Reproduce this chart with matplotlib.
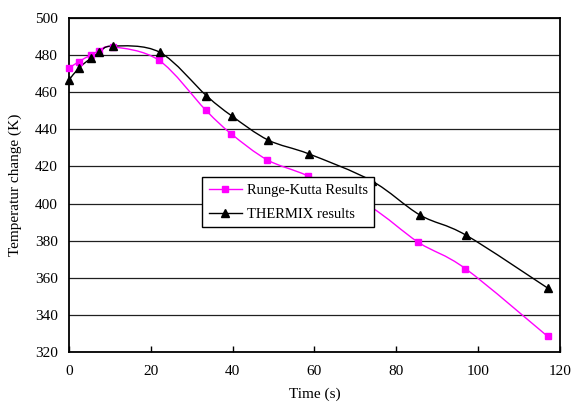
import numpy as np
import matplotlib
matplotlib.use("Agg")
import matplotlib.pyplot as plt
from matplotlib.path import Path
from matplotlib.patches import PathPatch
from matplotlib.lines import Line2D

plt.rcParams['font.family'] = ['Liberation Serif', 'DejaVu Serif']

# Runge-Kutta results (magenta squares)
t_rk = [0.0, 2.4, 5.3, 7.3, 10.7, 22.0, 33.4, 39.7, 48.5, 58.5, 73.5, 85.4, 96.9, 117.0]
T_rk = [472.9, 476.5, 480.0, 482.2, 484.5, 477.2, 450.4, 437.5, 423.5, 414.8, 398.5, 379.1, 364.9, 328.4]

# THERMIX results (black triangles)
t_th = [0.0, 2.5, 5.3, 7.4, 10.7, 22.2, 33.6, 39.8, 48.7, 58.7, 74.0, 85.8, 97.0, 117.1]
T_th = [466.6, 473.2, 478.2, 481.5, 484.9, 481.5, 458.1, 447.2, 434.2, 426.7, 412.2, 393.8, 383.0, 354.3]

x_ticks = [0, 20, 40, 60, 80, 100, 120]
y_ticks = [320, 340, 360, 380, 400, 420, 440, 460, 480, 500]


def smooth_path(xs, ys):
    # Excel-like smoothed line: Catmull-Rom segments as cubic Beziers
    p = np.column_stack([xs, ys])
    n = len(p)
    verts = [p[0]]
    codes = [Path.MOVETO]
    for i in range(n - 1):
        prev = p[i - 1] if i > 0 else p[i]
        nxt = p[i + 2] if i + 2 < n else p[i + 1]
        c1 = p[i] + (p[i + 1] - prev) / 6
        c2 = p[i + 1] - (nxt - p[i]) / 6
        verts += [c1, c2, p[i + 1]]
        codes += [Path.CURVE4] * 3
    return Path(verts, codes)


fig = plt.figure(figsize=(5.72, 4.07), dpi=100)
ax = fig.add_axes([0.1206, 0.1351, 0.8584, 0.8207])

ax.add_patch(PathPatch(smooth_path(t_rk, T_rk), fill=False, edgecolor='#FF00FF', lw=1.0, zorder=3))
ax.add_patch(PathPatch(smooth_path(t_th, T_th), fill=False, edgecolor='black', lw=1.0, zorder=3))
ax.plot(t_rk, T_rk, ls='none', marker='s', ms=4.5, color='#FF00FF', clip_on=False, zorder=4)
ax.plot(t_th, T_th, ls='none', marker='^', ms=5.5, color='black', clip_on=False, zorder=4)

ax.set_xlim(0, 120)
ax.set_ylim(320, 500)
ax.set_xticks(x_ticks)
ax.set_yticks(y_ticks)
ax.yaxis.grid(True, color='#202020', lw=0.9)
ax.set_axisbelow(True)
ax.tick_params(axis='x', direction='in', length=4, width=1, labelsize=11, pad=9)
ax.tick_params(axis='y', direction='in', length=0, labelsize=11, pad=8)
for s in ax.spines.values():
    s.set_linewidth(1.3)

ax.set_xlabel("Time (s)", fontsize=11, labelpad=7)
ax.set_ylabel("Temperatur change (K)", fontsize=11, labelpad=9)

# Legend
handles = [
    Line2D([], [], color='#FF00FF', marker='s', ms=4.5, lw=1.0, label='Runge-Kutta Results'),
    Line2D([], [], color='black', marker='^', ms=5.5, lw=1.0, label='THERMIX results'),
]
leg = ax.legend(handles=handles, loc='upper left', bbox_to_anchor=(0.271, 0.524),
                borderaxespad=0, fancybox=False, framealpha=1, edgecolor='black',
                fontsize=10.5, handlelength=2.3, handletextpad=0.3, borderpad=0.45,
                labelspacing=0.75)
leg.get_frame().set_linewidth(1.0)
leg.set_zorder(5)

fig.savefig("out.png", dpi=100)
